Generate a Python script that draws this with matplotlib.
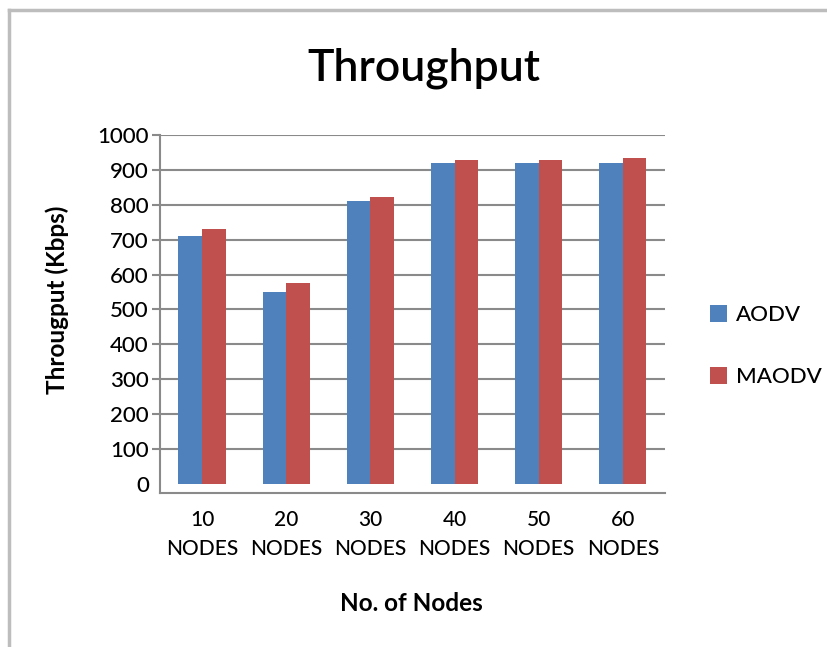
import matplotlib
matplotlib.use("Agg")
from matplotlib import pyplot as plt
import numpy as np

plt.rcParams["font.family"] = ["Lato", "DejaVu Sans"]
plt.rcParams["font.weight"] = "medium"

categories = ["10\nNODES", "20\nNODES", "30\nNODES", "40\nNODES", "50\nNODES", "60\nNODES"]
aodv = [711, 549, 812, 920, 920, 920]
maodv = [732, 575, 823, 928, 928, 933]
yticks = [0, 100, 200, 300, 400, 500, 600, 700, 800, 900, 1000]

blue = "#4F81BD"
red = "#C0504D"
grid_color = "#8A8A8A"

fig = plt.figure(figsize=(8.28, 6.47), dpi=100)
ax = fig.add_axes([0.1932, 0.2380, 0.6099, 0.5533])

x = np.arange(len(categories))
w = 0.28
ax.bar(x - w / 2, aodv, width=w, color=blue, label="AODV", zorder=2)
ax.bar(x + w / 2, maodv, width=w, color=red, label="MAODV", zorder=2)

ax.set_xlim(-0.5, len(categories) - 0.5)
ax.set_ylim(-26, 1000)
ax.set_yticks(yticks)
ax.set_xticks(x)
ax.set_xticklabels(categories, fontsize=15, linespacing=1.6)
ax.tick_params(axis="x", length=0, pad=12)
ax.tick_params(axis="y", length=6, width=1.5, color=grid_color, labelsize=16, pad=2)

ax.yaxis.grid(True, color=grid_color, linewidth=1.5, zorder=0)
ax.set_axisbelow(True)
# no gridline / tick at zero
ax.get_ygridlines()[0].set_visible(False)
ax.yaxis.get_major_ticks()[0].tick1line.set_visible(False)

for s in ["top", "right"]:
    ax.spines[s].set_visible(False)
for s in ["left", "bottom"]:
    ax.spines[s].set_color(grid_color)
    ax.spines[s].set_linewidth(1.5)

fig.text(0.512, 0.895, "Throughput", ha="center", va="center", fontsize=32,
         fontweight="semibold")
fig.text(0.069, 0.536, "Througput (Kbps)", rotation=90, ha="center", va="center",
         fontsize=17.5, fontweight="bold")
fig.text(0.497, 0.068, "No. of Nodes", ha="center", va="center",
         fontsize=17.5, fontweight="bold")

ax.legend(loc="center left", bbox_to_anchor=(1.05, 0.41), frameon=False,
          fontsize=16, handlelength=0.75, handleheight=0.75, handletextpad=0.4,
          labelspacing=1.9)

# outer frame lines (left and top)
fig.add_artist(plt.Line2D([0.011, 0.011], [0, 0.985], transform=fig.transFigure,
                          color="#BDBDBD", linewidth=2.5))
fig.add_artist(plt.Line2D([0.011, 1.0], [0.985, 0.985], transform=fig.transFigure,
                          color="#BDBDBD", linewidth=2.5))

fig.savefig("out.png", dpi=100, facecolor="white")
